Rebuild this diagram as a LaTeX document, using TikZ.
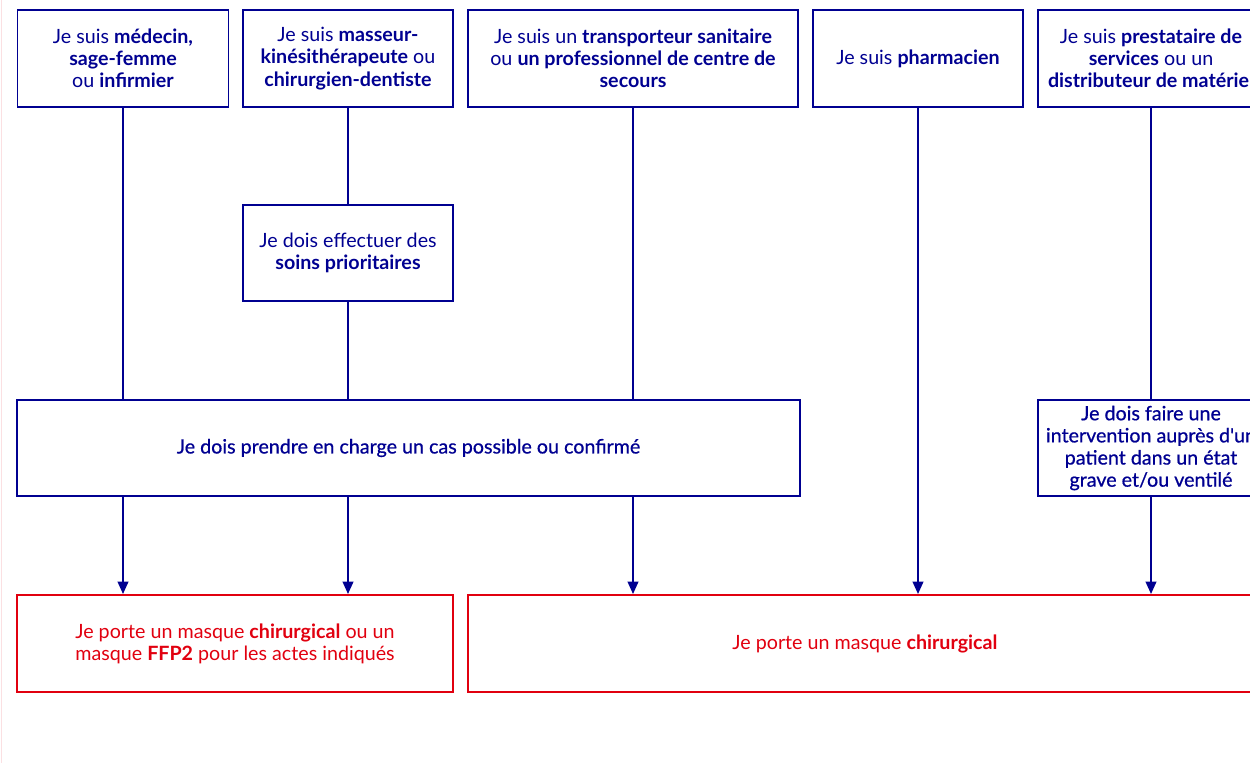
\documentclass[tikz,border=0pt]{standalone}
\usepackage{fontspec}
\setmainfont{Lato}
\newfontfamily\medfont{Lato}[FakeBold=0.7]
\usetikzlibrary{arrows.meta}
\definecolor{bleu}{HTML}{000091}
\definecolor{rouge}{HTML}{E1000F}
\begin{document}
\begin{tikzpicture}[font=\fontsize{11.2}{12.6}\selectfont,
		box/.style={draw=bleu,text=bleu,line width=1.1pt,align=center,inner sep=2pt,minimum height=1.94cm},
		masque/.style={box,draw=rouge,text=rouge},
		lien/.style={draw=bleu,line width=1.1pt},
		fleche/.style={lien,-{Triangle[length=7pt,width=6pt]}}]
				\useasboundingbox (0,0) rectangle (25,-15.26);
				\draw[rouge!12,line width=0.6pt] (0.03,0) -- (0.03,-15.26);
				\node[box,minimum width=4.22cm] (medecin) at (2.46,-1.17) {Je suis \textbf{médecin,}\\ \textbf{sage-femme}\\ ou \textbf{infirmier}};
				\node[box,minimum width=4.2cm] (kine) at (6.96,-1.17) {Je suis \textbf{masseur-}\\ \textbf{kinésithérapeute} ou\\ \textbf{chirurgien-dentiste}};
				\node[box,minimum width=6.6cm] (transport) at (12.66,-1.17) {Je suis un \textbf{transporteur sanitaire}\\ ou \textbf{un professionnel de centre de}\\ \textbf{secours}};
				\node[box,minimum width=4.2cm] (pharma) at (18.36,-1.17) {Je suis \textbf{pharmacien}};
				\node[box,minimum width=4.52cm] (presta) at (23.02,-1.17) {Je suis \textbf{prestataire de}\\ \textbf{services} ou un\\ \textbf{distributeur de matériel}};
				\node[box,minimum width=4.2cm,minimum height=1.92cm] (soins) at (6.96,-5.06) {Je dois effectuer des\\ \textbf{soins prioritaires}};
				\node[box,minimum width=15.66cm,minimum height=1.92cm,font=\fontsize{11.2}{12.6}\medfont] (cas) at (8.17,-8.96) {Je dois prendre en charge un cas possible ou confirmé};
				\node[box,minimum width=4.52cm,minimum height=1.92cm,font=\fontsize{11.2}{12.6}\medfont] (grave) at (23.02,-8.96) {Je dois faire une\\ intervention auprès d'un\\ patient dans un état\\ grave et/ou ventilé};
				\node[masque,minimum width=8.72cm] (ffp) at (4.7,-12.87) {Je porte un masque \textbf{chirurgical} ou un\\ masque \textbf{FFP2} pour les actes indiqués};
				\node[masque,minimum width=15.88cm] (chir) at (17.3,-12.87) {Je porte un masque \textbf{chirurgical}};
				\path
				(medecin) edge[lien] (medecin |- cas.north)
				(kine) edge[lien] (soins)
				(soins) edge[lien] (soins |- cas.north)
				(transport) edge[lien] (transport |- cas.north)
				(presta) edge[lien] (grave);
				\path
				(medecin |- cas.south) edge[fleche] (medecin |- ffp.north)
				(kine |- cas.south) edge[fleche] (kine |- ffp.north)
				(transport |- cas.south) edge[fleche] (transport |- chir.north)
				(pharma) edge[fleche] (pharma |- chir.north)
				(grave) edge[fleche] (grave |- chir.north);
\end{tikzpicture}
\end{document}
